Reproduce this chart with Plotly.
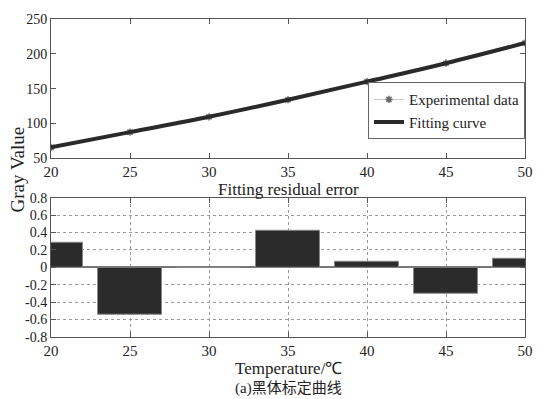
import plotly.graph_objects as go

temps = [20, 25, 30, 35, 40, 45, 50]
gray_values = [65.6, 87.5, 109.5, 134, 160, 186.5, 215.5]
residuals = [0.28, -0.55, 0.0, 0.42, 0.06, -0.30, 0.10]
top_ticks = [50, 100, 150, 200, 250]
bot_ticks = [-0.8, -0.6, -0.4, -0.2, 0, 0.2, 0.4, 0.6, 0.8]
bot_tick_text = ["-0.8", "-0.6", "-0.4", "-0.2", "0", "0.2", "0.4", "0.6", "0.8"]
x_ticks = [20, 25, 30, 35, 40, 45, 50]

FONT = "Liberation Serif, Times New Roman, serif"
AX = "#555555"
W, H = 545, 399
ML, MR, MT, MB = 51, 15, 15, 62
PW, PH = W - ML - MR, H - MT - MB


def px_x(p):
    return (p - ML) / PW


def px_y(p):
    return (H - MB - p) / PH


fig = go.Figure()
fig.add_trace(go.Scatter(
    x=temps, y=gray_values, mode="lines+markers", name="Experimental data",
    line=dict(color="#c8c8c8", width=1, shape="spline"),
    marker=dict(symbol="asterisk", size=6, color="#666666", line=dict(width=1.5, color="#666666")),
    xaxis="x", yaxis="y",
))
fig.add_trace(go.Scatter(
    x=temps, y=gray_values, mode="lines", name="Fitting curve",
    line=dict(color="#2a2a2a", width=4, shape="spline"),
    xaxis="x", yaxis="y",
))
fig.add_trace(go.Bar(
    x=temps, y=residuals, width=4, base=0, showlegend=False,
    marker=dict(color="#2b2b2b", line=dict(color="#888888", width=1)),
    xaxis="x2", yaxis="y2",
))

common_x = dict(range=[20, 50], tickvals=x_ticks, ticks="inside", ticklen=5,
                tickcolor=AX, linecolor=AX, linewidth=1, mirror="ticks",
                showline=True, tickfont=dict(family=FONT, size=15, color="#222"))

fig.update_layout(
    width=W, height=H,
    margin=dict(l=ML, r=MR, t=MT, b=MB),
    paper_bgcolor="white", plot_bgcolor="white",
    font=dict(family=FONT, color="#222"),
    xaxis=dict(**common_x, domain=[0, 1], anchor="y", showgrid=False, zeroline=False),
    yaxis=dict(range=[50, 250], tickvals=top_ticks, domain=[px_y(156), 1], anchor="x",
               ticks="inside", ticklen=5, tickcolor=AX, linecolor=AX, mirror="ticks",
               showline=True, showgrid=False, zeroline=False,
               tickfont=dict(family=FONT, size=14, color="#222")),
    xaxis2=dict(**common_x, domain=[0, 1], anchor="y2", showgrid=True,
                gridcolor="#999999", griddash="dot", gridwidth=1, zeroline=False),
    yaxis2=dict(range=[-0.8, 0.8], tickvals=bot_ticks, ticktext=bot_tick_text,
                domain=[0, px_y(196)], anchor="x2",
                ticks="inside", ticklen=5, tickcolor=AX, linecolor=AX, mirror="ticks",
                showline=True, showgrid=True, gridcolor="#999999", griddash="dot",
                zeroline=True, zerolinecolor="#777777", zerolinewidth=1.5,
                tickfont=dict(family=FONT, size=14, color="#222")),
    legend=dict(x=1, xanchor="right", y=px_y(79), yanchor="top",
                bordercolor="#666666", borderwidth=1, bgcolor="white",
                font=dict(family=FONT, size=15, color="#222"),
                tracegroupgap=0, itemwidth=30),
    showlegend=True,
    bargap=0,
)

fig.add_annotation(text="Fitting residual error", x=0.5, y=px_y(188), xref="paper",
                   yref="paper", showarrow=False, font=dict(family=FONT, size=17, color="#222"),
                   xanchor="center", yanchor="middle")
fig.add_annotation(text="Temperature/℃", x=0.5, y=px_y(369), xref="paper",
                   yref="paper", showarrow=False, font=dict(family=FONT, size=17, color="#222"),
                   xanchor="center", yanchor="middle")
fig.add_annotation(text="(a)黑体标定曲线", x=0.5, y=px_y(389), xref="paper",
                   yref="paper", showarrow=False,
                   font=dict(family="Liberation Serif, Noto Sans CJK SC", size=15, color="#222"),
                   xanchor="center", yanchor="middle")
fig.add_annotation(text="Gray Value", x=px_x(17), y=px_y(167), xref="paper",
                   yref="paper", showarrow=False, textangle=-90,
                   font=dict(family=FONT, size=19, color="#222"),
                   xanchor="center", yanchor="middle")

fig.write_html("out.html")
